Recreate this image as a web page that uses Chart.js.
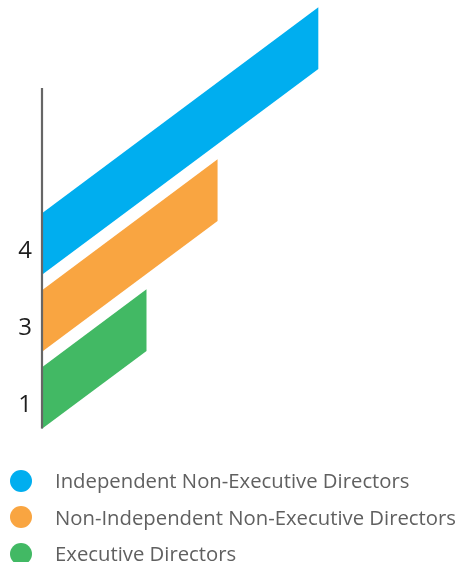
<!DOCTYPE html>
<html>
<head>
<meta charset="utf-8">
<script src="https://cdn.jsdelivr.net/npm/chart.js@4"></script>
<style>
  html, body { margin: 0; padding: 0; background: #ffffff; overflow: hidden; }
  #wrap { position: relative; width: 459px; height: 562px; overflow: hidden; }
  #c { position: absolute; left: 0; top: 0; }
  #legend { position: absolute; left: 0; top: 462px; width: 459px; margin: 0; padding: 0; list-style: none;
            font-family: "Open Sans", Roboto, sans-serif; font-size: 20.3px; color: #606060; }
  #legend li { position: relative; height: 36.5px; line-height: 36.5px; padding-left: 55px; white-space: nowrap; }
  #legend li span.dot { position: absolute; left: 9.5px; top: 7.5px; width: 22px; height: 22px; border-radius: 50%; }
</style>
</head>
<body>
<div id="wrap">
  <canvas id="c" width="459" height="470"></canvas>
  <ul id="legend"></ul>
</div>
<script>
// ---- data ----
const seriesNames = [
  'Independent Non-Executive Directors',
  'Non-Independent Non-Executive Directors',
  'Executive Directors'
];
const countLabels = ['4', '3', '1'];          // numbers printed beside each bar
const barExtent = [4, 2.54, 1.51];            // drawn bar lengths, relative to the longest bar (=4)
const seriesColors = ['#00AEEF', '#F9A541', '#42B964'];

// ---- styling constants ----
const SHEAR = 0.745;       // upward slant of the bars
const AXIS_TOP = 88;       // top of the decorative vertical axis line

const shearPlugin = {
  id: 'shear',
  beforeDatasetsDraw(chart) {
    const ctx = chart.ctx;
    const x0 = chart.chartArea.left;
    ctx.save();
    ctx.transform(1, -SHEAR, 0, 1, 0, SHEAR * x0);
  },
  afterDatasetsDraw(chart) {
    chart.ctx.restore();
  },
  afterDraw(chart) {
    const ctx = chart.ctx;
    const meta = chart.getDatasetMeta(0);
    const last = meta.data[meta.data.length - 1];
    const bottom = last.y + last.height / 2;
    ctx.save();
    ctx.strokeStyle = '#666666';
    ctx.lineWidth = 2.2;
    ctx.beginPath();
    ctx.moveTo(chart.chartArea.left, AXIS_TOP);
    ctx.lineTo(chart.chartArea.left, bottom);
    ctx.stroke();
    ctx.restore();
  }
};

const chart = new Chart(document.getElementById('c'), {
  type: 'bar',
  data: {
    labels: countLabels,
    datasets: [{
      label: 'Directors',
      data: barExtent,
      backgroundColor: seriesColors,
      borderWidth: 0,
      barThickness: 61,
      clip: false
    }]
  },
  options: {
    indexAxis: 'y',
    responsive: false,
    animation: false,
    devicePixelRatio: 1,
    layout: { padding: { top: 205.5, bottom: 33.5, left: 0, right: 141 } },
    plugins: { legend: { display: false }, tooltip: { enabled: false } },
    scales: {
      x: { type: 'linear', min: 0, max: 4, display: false },
      y: {
        type: 'category',
        grid: { display: false, drawTicks: false },
        border: { display: false },
        afterFit(s) { s.width = 42; },
        ticks: {
          color: '#1e1e1e',
          padding: 10,
          labelOffset: 7.5,
          font: { family: '"Open Sans", Roboto, sans-serif', size: 24 }
        }
      }
    }
  },
  plugins: [shearPlugin]
});

// HTML legend built from the series arrays
const ul = document.getElementById('legend');
seriesNames.forEach((name, i) => {
  const li = document.createElement('li');
  const dot = document.createElement('span');
  dot.className = 'dot';
  dot.style.background = seriesColors[i];
  li.appendChild(dot);
  li.appendChild(document.createTextNode(name));
  ul.appendChild(li);
});
</script>
</body>
</html>
